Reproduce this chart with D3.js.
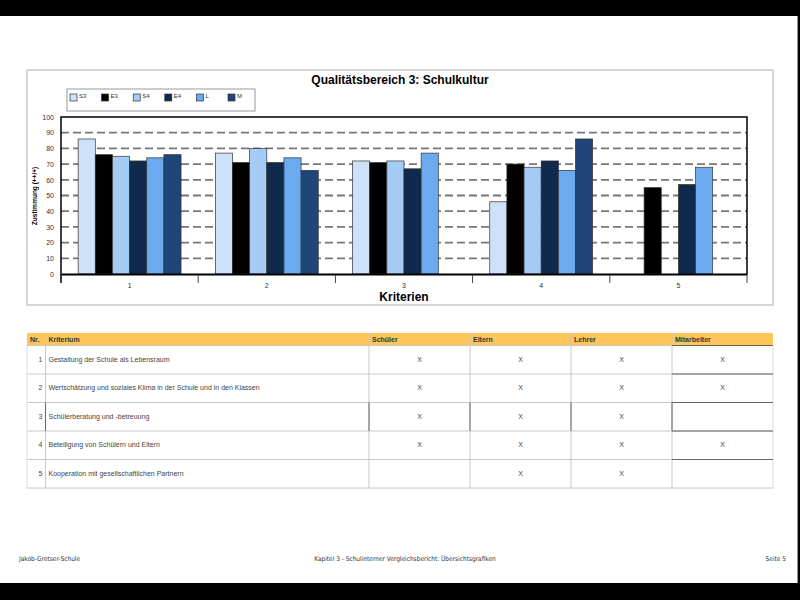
<html>
<head>
<meta charset="utf-8">
<script src="https://d3js.org/d3.v7.min.js"></script>
<style>
  body { margin: 0; background: #000; }
  svg { display: block; font-family: "Liberation Sans", Arial, sans-serif; }
</style>
</head>
<body>
<script>
// chart data
var categories = ["1", "2", "3", "4", "5"];
var series = ["S3", "E3", "S4", "E4", "L", "M"];
var S3 = [86, 77, 72, 46, null];
var E3 = [76, 71, 71, 70, 55];
var S4 = [75, 80, 72, 68, null];
var E4 = [72, 71, 67, 72, 57];
var L  = [74, 74, 77, 66, 68];
var M  = [76, 66, null, 86, null];
var yTicks = [0, 10, 20, 30, 40, 50, 60, 70, 80, 90, 100];

// table data
var columns = ["Nr.", "Kriterium", "Schüler", "Eltern", "Lehrer", "Mitarbeiter"];
var criteria = [
  "Gestaltung der Schule als Lebensraum",
  "Wertschätzung und soziales Klima in der Schule und in den Klassen",
  "Schülerberatung und -betreuung",
  "Beteiligung von Schülern und Eltern",
  "Kooperation mit gesellschaftlichen Partnern"
];
var schueler    = [true, true, true, true, false];
var eltern      = [true, true, true, true, true];
var lehrer      = [true, true, true, true, true];
var mitarbeiter = [true, true, false, true, false];

var values = {S3: S3, E3: E3, S4: S4, E4: E4, L: L, M: M};
var colors = {S3: "#cde2fa", E3: "#000000", S4: "#a6ccf6", E4: "#0f2a4d", L: "#6caaf0", M: "#1f4677"};

var svg = d3.select("body").append("svg")
    .attr("width", 800)
    .attr("height", 600);

// page
svg.append("rect").attr("x", 0).attr("y", 16).attr("width", 798).attr("height", 567).attr("fill", "#fff");

// chart frame
svg.append("rect")
    .attr("x", 27).attr("y", 70).attr("width", 746).attr("height", 235)
    .attr("fill", "#fff").attr("stroke", "#bbb").attr("stroke-width", 1.2);

svg.append("text")
    .attr("x", 400).attr("y", 84)
    .attr("text-anchor", "middle")
    .style("font-size", "12px").style("font-weight", "bold")
    .text("Qualitätsbereich 3: Schulkultur");

var x = d3.scaleBand().domain(categories).range([61, 747]);
var xs = d3.scaleBand().domain(series).range([0, x.bandwidth()]).paddingOuter(1);
var y = d3.scaleLinear().domain([0, 100]).range([274, 117]);

// grid lines
svg.append("g").selectAll("line")
    .data(yTicks.filter(d => d > 0 && d < 100))
    .enter().append("line")
    .attr("x1", 61).attr("x2", 747)
    .attr("y1", d => y(d)).attr("y2", d => y(d))
    .attr("stroke", "#777").attr("stroke-width", 1.8)
    .attr("stroke-dasharray", "8,4");

// bars
var groups = svg.append("g").selectAll("g")
    .data(categories)
    .enter().append("g")
    .attr("transform", d => "translate(" + x(d) + ",0)");

groups.selectAll("rect")
    .data((c, i) => series.map(s => ({s: s, v: values[s][i]})).filter(d => d.v != null))
    .enter().append("rect")
    .attr("x", d => xs(d.s))
    .attr("width", xs.bandwidth())
    .attr("y", d => y(d.v))
    .attr("height", d => y(0) - y(d.v))
    .attr("fill", d => colors[d.s])
    .attr("stroke", "#333").attr("stroke-width", 0.7);

// plot border
svg.append("path")
    .attr("d", "M61,283V117H747V274")
    .attr("fill", "none").attr("stroke", "#000").attr("stroke-width", 1.5);

// x axis
var xAxis = svg.append("g").attr("transform", "translate(0,274)")
    .call(d3.axisBottom(x).tickSize(0).tickPadding(9));
xAxis.select(".domain").attr("stroke", "#000").attr("stroke-width", 1.8);
xAxis.selectAll("text").style("font-size", "7px").attr("fill", "#333").attr("font-family", "Liberation Sans, Arial");
svg.append("g").selectAll("line")
    .data(categories.slice(1).concat(["end"]))
    .enter().append("line")
    .attr("x1", d => d === "end" ? 747 : x(d)).attr("x2", d => d === "end" ? 747 : x(d))
    .attr("y1", 275).attr("y2", 283)
    .attr("stroke", "#444").attr("stroke-width", 1);

// y axis labels
var yAxis = svg.append("g").attr("transform", "translate(61,0)")
    .call(d3.axisLeft(y).tickValues(yTicks).tickSize(0).tickPadding(7));
yAxis.select(".domain").remove();
yAxis.selectAll("text").style("font-size", "7px").attr("fill", "#333").attr("font-family", "Liberation Sans, Arial");

svg.append("text")
    .attr("transform", "translate(37,196) rotate(-90)")
    .attr("text-anchor", "middle")
    .style("font-size", "6.5px").style("font-weight", "bold")
    .text("Zustimmung (++/+)");

svg.append("text")
    .attr("x", 404).attr("y", 301)
    .attr("text-anchor", "middle")
    .style("font-size", "12px").style("font-weight", "bold")
    .text("Kriterien");

// legend
var legend = svg.append("g");
legend.append("rect")
    .attr("x", 67).attr("y", 89).attr("width", 188).attr("height", 22)
    .attr("fill", "#fff").attr("stroke", "#999").attr("stroke-width", 1);
var li = legend.selectAll("g.item").data(series).enter().append("g")
    .attr("transform", (d, i) => "translate(" + (70 + i * 31.6) + ",94)");
li.append("rect").attr("width", 7).attr("height", 7)
    .attr("fill", d => colors[d]).attr("stroke", "#333").attr("stroke-width", 0.7);
li.append("text").attr("x", 9).attr("y", 4)
    .style("font-size", "6px").attr("fill", "#333")
    .text(d => d);

// table
var colX = [27, 45.5, 369, 470, 571, 672, 773];
var headTop = 333, headBottom = 345.5;
var rowH = (488 - headBottom) / criteria.length;
var table = svg.append("g");

table.append("rect")
    .attr("x", colX[0]).attr("y", headTop)
    .attr("width", colX[6] - colX[0]).attr("height", headBottom - headTop)
    .attr("fill", "#fcc65a");

table.selectAll("text.head").data(columns).enter().append("text")
    .attr("x", (d, i) => colX[i] + 3).attr("y", headTop + 9)
    .style("font-size", "7px").style("font-weight", "bold").attr("fill", "#333")
    .text(d => d);

// horizontal lines
var hLines = d3.range(criteria.length + 1).map(i => headBottom + i * rowH);
table.selectAll("line.h").data(hLines).enter().append("line")
    .attr("x1", colX[0]).attr("x2", colX[6])
    .attr("y1", d => d).attr("y2", d => d)
    .attr("stroke", "#c8c8c8").attr("stroke-width", 1);

// vertical lines
table.selectAll("line.v").data(colX).enter().append("line")
    .attr("x1", d => d).attr("x2", d => d)
    .attr("y1", (d, i) => (i === 0 || i === 6) ? headBottom : headTop).attr("y2", 488)
    .attr("stroke", (d, i) => (i === 0 || i === 6) ? "#ddd" : "#c8c8c8").attr("stroke-width", 1);

// a few darker cell borders as in the original print
var dark = [
  [colX[5], headBottom, colX[6], headBottom],
  [colX[5], hLines[1], colX[6], hLines[1]],
  [colX[1], hLines[2], colX[1], hLines[3]],
  [colX[2], hLines[2], colX[2], hLines[3]],
  [colX[3], hLines[2], colX[3], hLines[3]],
  [colX[4], hLines[2], colX[4], hLines[3]],
  [colX[5], hLines[2], colX[6], hLines[2]],
  [colX[5], hLines[3], colX[6], hLines[3]],
  [colX[5], hLines[2], colX[5], hLines[3]],
  [colX[5], hLines[4], colX[6], hLines[4]]
];
table.selectAll("line.d").data(dark).enter().append("line")
    .attr("x1", d => d[0]).attr("y1", d => d[1]).attr("x2", d => d[2]).attr("y2", d => d[3])
    .attr("stroke", "#666").attr("stroke-width", 1);

var rows = table.selectAll("g.row").data(criteria).enter().append("g")
    .attr("transform", (d, i) => "translate(0," + (headBottom + i * rowH + rowH / 2 + 2) + ")");
rows.append("text")
    .attr("x", colX[1] - 3).attr("text-anchor", "end")
    .style("font-size", "7px").attr("fill", "#444")
    .text((d, i) => i + 1);
rows.append("text")
    .attr("x", colX[1] + 3)
    .style("font-size", "7px").attr("fill", "#444")
    .text(d => d);

var marks = [schueler, eltern, lehrer, mitarbeiter];
marks.forEach(function (col, j) {
  rows.filter((d, i) => col[i]).append("text")
    .attr("x", (colX[j + 2] + colX[j + 3]) / 2)
    .attr("text-anchor", "middle")
    .style("font-size", "7px").attr("fill", "#444")
    .text("X");
});

// footer
var foot = svg.append("g").style("font-family", "'Liberation Sans Narrow', 'DejaVu Sans Condensed', sans-serif")
    .style("font-size", "6.5px").attr("fill", "#333");
foot.append("text").attr("x", 19).attr("y", 561).text("Jakob-Gretser-Schule");
foot.append("text").attr("x", 405).attr("y", 561).attr("text-anchor", "middle")
    .text("Kapitel 3 - Schulinterner Vergleichsbericht: Übersichtsgrafiken");
foot.append("text").attr("x", 786).attr("y", 561).attr("text-anchor", "end").text("Seite 5");

svg.append("line").attr("x1", 797.5).attr("x2", 797.5).attr("y1", 16).attr("y2", 583)
    .attr("stroke", "#999").attr("stroke-width", 1);
</script>
</body>
</html>
